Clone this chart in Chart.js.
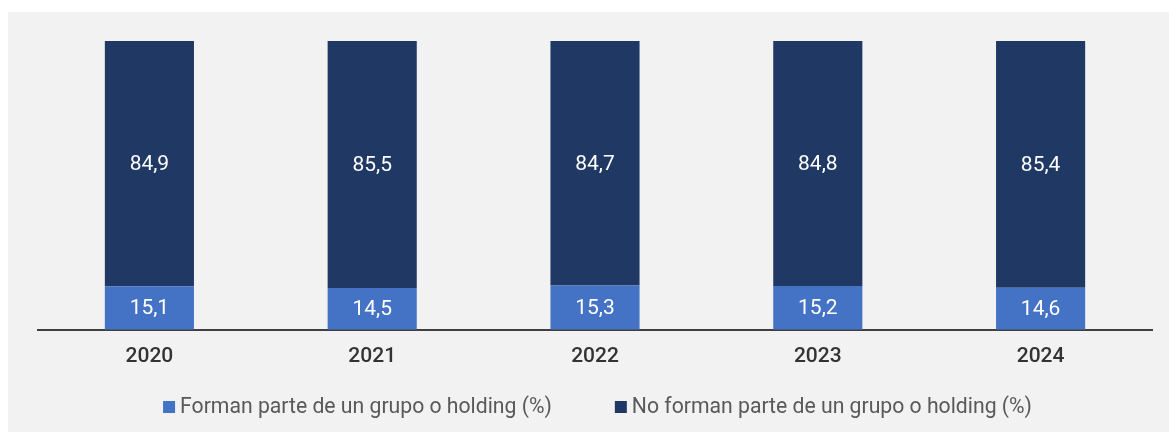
<!DOCTYPE html>
<html lang="es">
<head>
<meta charset="UTF-8">
<script src="https://cdn.jsdelivr.net/npm/chart.js"></script>
<style>
    body { margin: 0; background: #fff; }
    #box { position: absolute; left: 8px; top: 12px; width: 1161px; height: 420px; background: #f2f2f2; }
</style>
<title>Grupo o holding</title>
</head>
<body>
<div id="box"><canvas id="holdingChart"></canvas></div>
<script>
    var years = ['2020', '2021', '2022', '2023', '2024'];
    var enGrupo = [15.1, 14.5, 15.3, 15.2, 14.6];
    var sinGrupo = [84.9, 85.5, 84.7, 84.8, 85.4];
    var seriesNames = ['Forman parte de un grupo o holding (%)', 'No forman parte de un grupo o holding (%)'];
    var seriesColors = ['#4472c4', '#1f3864'];

    function fmt(v) {
        return v.toFixed(1).replace('.', ',');
    }

    // labels in the middle of every bar segment
    var barLabels = {
        id: 'barLabels',
        afterDatasetsDraw: function (chart) {
            var ctx = chart.ctx;
            ctx.save();
            ctx.fillStyle = '#ffffff';
            ctx.font = '21px Roboto';
            ctx.textAlign = 'center';
            ctx.textBaseline = 'middle';
            chart.data.datasets.forEach(function (ds, i) {
                var meta = chart.getDatasetMeta(i);
                meta.data.forEach(function (bar, j) {
                    var mid = (bar.y + bar.base) / 2;
                    ctx.fillText(fmt(ds.data[j]), bar.x, mid + 1);
                });
            });
            ctx.restore();
        }
    };

    // legend drawn by hand so box and text sit close together
    var bottomLegend = {
        id: 'bottomLegend',
        afterDraw: function (chart) {
            var ctx = chart.ctx;
            var box = 12, gap = 5, between = 63;
            ctx.save();
            ctx.font = '21.2px Roboto';
            ctx.textBaseline = 'middle';
            var widths = chart.data.datasets.map(function (ds) { return ctx.measureText(ds.label).width; });
            var total = 0;
            widths.forEach(function (w) { total += box + gap + w; });
            total += between * (widths.length - 1);
            var x = (chart.width - total) / 2 + 9;
            var y = 395;
            chart.data.datasets.forEach(function (ds, i) {
                ctx.fillStyle = ds.backgroundColor;
                ctx.fillRect(x, y - box / 2, box, box);
                ctx.fillStyle = '#595959';
                ctx.fillText(ds.label, x + box + gap, y + 1);
                x += box + gap + widths[i] + between;
            });
            ctx.restore();
        }
    };

    new Chart(document.getElementById('holdingChart'), {
        type: 'bar',
        data: {
            labels: years,
            datasets: [
                { label: seriesNames[0], data: enGrupo, backgroundColor: seriesColors[0], borderWidth: 0 },
                { label: seriesNames[1], data: sinGrupo, backgroundColor: seriesColors[1], borderWidth: 0 }
            ]
        },
        options: {
            responsive: true,
            maintainAspectRatio: false,
            animation: false,
            events: [],
            categoryPercentage: 1,
            barPercentage: 0.4,
            layout: { padding: { left: 30, right: 17, top: 29, bottom: 49 } },
            plugins: {
                legend: { display: false },
                tooltip: { enabled: false }
            },
            scales: {
                x: {
                    stacked: true,
                    grid: { display: false, drawTicks: false },
                    border: { display: true, color: '#404040', width: 2 },
                    ticks: { padding: 14, color: '#333333', font: { family: 'Roboto', size: 21, weight: '500' } }
                },
                y: {
                    stacked: true,
                    display: false,
                    min: 0,
                    max: 100
                }
            }
        },
        plugins: [barLabels, bottomLegend]
    });
</script>
</body>
</html>
